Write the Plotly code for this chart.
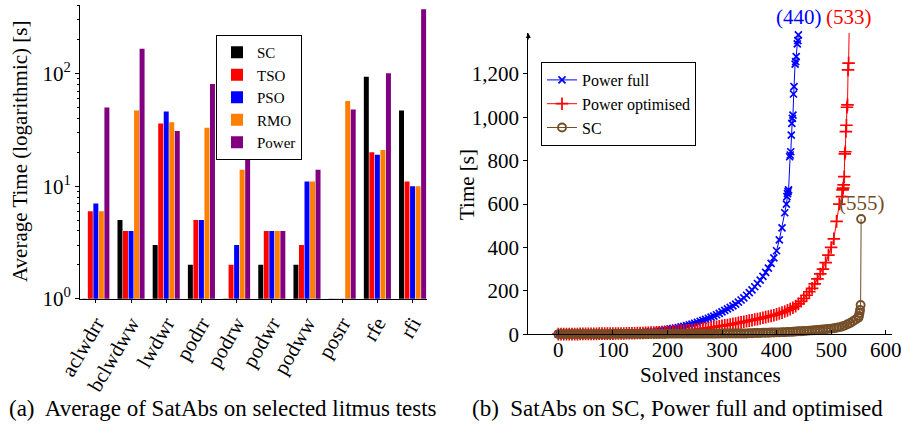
import plotly.graph_objects as go

W, H = 902, 424
FONT = "Liberation Serif, Times New Roman, serif"

# ---------------- left panel data ----------------
tests = ["aclwdrr", "bclwdww", "lwdwr", "podrr", "podrw", "podwr", "podww", "posrr", "rfe", "rfi"]
sc_avg = [1, 5, 3, 2, 1, 2, 2, 1, 94, 47]
tso_avg = [6, 4, 36, 5, 2, 4, 3, 1, 20, 11]
pso_avg = [7, 4, 46, 5, 3, 4, 11, 1, 19, 10]
rmo_avg = [6, 47, 37, 33, 14, 4, 11, 57, 21, 10]
power_avg = [50, 166, 31, 81, 18, 4, 14, 48, 101, 373]
bar_series = [("SC", sc_avg, "black"), ("TSO", tso_avg, "#ff0000"), ("PSO", pso_avg, "#0000ff"),
              ("RMO", rmo_avg, "#ff8000"), ("Power", power_avg, "#800080")]
log_tickvals = [1, 10, 100]
log_ticktext = ["10<sup>0</sup>", "10<sup>1</sup>", "10<sup>2</sup>"]
log_minor = [2, 3, 4, 5, 6, 7, 8, 9, 20, 30, 40, 50, 60, 70, 80, 90, 200, 300, 400]

# ---------------- right panel data ----------------
full_x = list(range(0, 416, 5)) + [418, 419, 420, 421, 422, 424, 425, 426, 427, 428, 429, 430,
                                   431, 432, 434, 435, 436, 438, 439, 440]
full_t = [1, 1, 1, 1, 1, 1, 2, 2, 2, 2,
          2, 2, 3, 3, 3, 3, 3, 4, 4, 4,
          4, 5, 5, 5, 6, 6, 7, 7, 8, 8,
          9, 10, 11, 12, 13, 14, 15, 17, 19, 21,
          23, 25, 27, 29, 31, 34, 37, 40, 43, 47,
          51, 55, 60, 64, 69, 74, 79, 84, 90, 96,
          103, 110, 117, 124, 131, 139, 148, 158, 168, 180,
          192, 205, 219, 234, 250, 267, 285, 305, 327, 352,
          385, 435, 490, 560,
          600, 634, 648, 657, 665, 818, 826, 841, 918, 972, 995, 1010,
          1107, 1141, 1245, 1256, 1279, 1338, 1353, 1379]

opt_x = list(range(0, 516, 5)) + list(range(520, 534))
opt_t = [1, 1, 1, 1, 1, 1, 1, 1,
         2, 2, 2, 2, 2, 2, 2,
         3, 3, 3, 3, 3, 3,
         4, 4, 4, 4,
         5, 5, 5, 5,
         6, 6, 6,
         7, 7, 8, 8, 9, 9, 10, 10,
         11, 12, 13, 14, 15, 16, 17, 18, 19, 20,
         22, 23, 25, 26, 28, 29, 31, 33, 35, 37,
         39, 41, 43, 45, 48, 50, 53, 55, 58, 60,
         63, 65, 68, 70, 73, 76, 79, 82, 85, 88,
         92, 96, 100, 105, 110, 116, 122, 130, 140, 152,
         165, 180, 196, 212, 232, 255, 278, 300, 330, 365,
         400, 440, 520, 600,
         634, 665, 673, 688, 726, 831, 841, 934, 963, 1046, 1057, 1218, 1249, 1392]

sc_x = list(range(0, 551, 5)) + [551, 552, 553, 554, 555]
sc_t = [1] * 20 + [2] * 20 + [3] * 20 + [4] * 10 + \
       [5, 5, 6, 6, 6, 7, 7, 7, 8, 8,
        9, 9, 10, 10, 11, 11, 12, 13, 14, 14,
        15, 16, 17, 18, 19, 20, 21, 22, 23, 25,
        26, 28, 30, 33, 36, 40, 46, 52, 60, 68, 76,
        85, 97, 112, 135, 531]

BROWN = "#734d26"

fig = go.Figure()

for name, vals, col in bar_series:
    fig.add_trace(go.Bar(x=tests, y=vals, name=name, marker=dict(color=col, line=dict(width=0)),
                         xaxis="x", yaxis="y", legend="legend"))

fig.add_trace(go.Scatter(x=full_x, y=full_t, name="Power full", mode="lines+markers",
                         line=dict(color="#0000ff", width=1),
                         marker=dict(symbol="x-thin", size=7, line=dict(color="#0000ff", width=1.7)),
                         xaxis="x2", yaxis="y2", legend="legend2", cliponaxis=False))
fig.add_trace(go.Scatter(x=opt_x, y=opt_t, name="Power optimised", mode="lines+markers",
                         line=dict(color="#ff0000", width=1),
                         marker=dict(symbol="cross-thin", size=9, line=dict(color="#ff0000", width=1.7)),
                         xaxis="x2", yaxis="y2", legend="legend2", cliponaxis=False))
fig.add_trace(go.Scatter(x=sc_x, y=sc_t, name="SC", mode="lines+markers",
                         line=dict(color=BROWN, width=1),
                         marker=dict(symbol="circle-open", size=8, color=BROWN, line=dict(color=BROWN, width=1.9)),
                         xaxis="x2", yaxis="y2", legend="legend2", cliponaxis=False))


def px(x):
    return x / W


def py(y):
    return 1 - y / H


tickfont = dict(family=FONT, size=21, color="black")

fig.update_layout(
    template="none",
    width=W, height=H,
    margin=dict(l=0, r=0, t=0, b=0, pad=0, autoexpand=False),
    paper_bgcolor="white", plot_bgcolor="white",
    font=dict(family=FONT, size=20, color="black"),
    barmode="group", bargap=0.215, bargroupgap=0.1,
    xaxis=dict(domain=[px(80), px(427)], anchor="y", type="category", range=[-0.45, 9.41],
               automargin=False,
               showline=True, linecolor="black", linewidth=1, ticks="outside", ticklen=3,
               tickcolor="black", tickangle=-60, tickfont=tickfont, showgrid=False),
    yaxis=dict(domain=[py(298.7), py(5)], anchor="x", type="log", range=[0, 2.61],
               automargin=False,
               showline=True, linecolor="black", linewidth=1, ticks="outside", ticklen=4,
               tickcolor="black", tickvals=log_tickvals, ticktext=log_ticktext, tickfont=tickfont,
               showgrid=False, zeroline=False,
               minor=dict(tickvals=log_minor, ticks="outside", ticklen=2, tickcolor="black", showgrid=False)),
    xaxis2=dict(domain=[px(528.3), px(891.7)], anchor="y2", range=[-55, 611],
                automargin=False,
                showline=True, linecolor="black", linewidth=1, ticks="inside", ticklen=4,
                tickcolor="black", tickvals=[0, 100, 200, 300, 400, 500, 600], tickfont=tickfont,
                ticklabelstandoff=-4,
                showgrid=False, zeroline=False),
    yaxis2=dict(domain=[py(334.3), py(33)], anchor="x2", range=[0, 1388],
                automargin=False,
                showline=True, linecolor="black", linewidth=1, ticks="outside", ticklen=4,
                tickcolor="black", tickvals=[0, 200, 400, 600, 800, 1000, 1200], tickformat=",d",
                tickfont=tickfont, showgrid=False, zeroline=False),
    legend=dict(x=px(216), y=py(35), xanchor="left", yanchor="top", bgcolor="white",
                bordercolor="black", borderwidth=1, font=dict(family=FONT, size=15, color="black"),
                tracegroupgap=0, itemwidth=30),
    legend2=dict(x=px(541), y=py(62), xanchor="left", yanchor="top", bgcolor="white",
                 bordercolor="black", borderwidth=1, font=dict(family=FONT, size=16, color="black"),
                 tracegroupgap=0),
    showlegend=True,
)

ann = [
    dict(text="Average Time (logarithmic) [s]", x=px(20), y=py(152), textangle=-90, size=21, color="black"),
    dict(text="Time [s]", x=px(467), y=py(184), textangle=-90, size=21, color="black"),
    dict(text="Solved instances", x=px(710), y=py(375), textangle=0, size=21, color="black"),
    dict(text="(a)  Average of SatAbs on selected litmus tests", x=px(223), y=py(408), textangle=0, size=23, color="black"),
    dict(text="(b)  SatAbs on SC, Power full and optimised", x=px(677), y=py(408), textangle=0, size=23, color="black"),
    dict(text="(440)", x=px(799), y=py(17), textangle=0, size=21, color="#0000ff"),
    dict(text="(533)", x=px(849), y=py(17), textangle=0, size=21, color="#ff0000"),
    dict(text="(555)", x=px(862), y=py(203), textangle=0, size=21, color=BROWN),
]
for a in ann:
    fig.add_annotation(text=a["text"], x=a["x"], y=a["y"], xref="paper", yref="paper",
                       showarrow=False, textangle=a["textangle"], xanchor="center", yanchor="middle",
                       font=dict(family=FONT, size=a["size"], color=a["color"]))

# arrow tip on top of the right y axis
fig.add_annotation(x=-55, y=1388, xref="x2", yref="y2", ax=0, ay=8, axref="pixel", ayref="pixel",
                   text="", showarrow=True, arrowhead=2, arrowsize=1, arrowwidth=1, arrowcolor="black")

fig.write_html("out.html", config={"displayModeBar": False},
               post_script="document.body.style.margin='0';document.body.style.overflow='hidden';")
